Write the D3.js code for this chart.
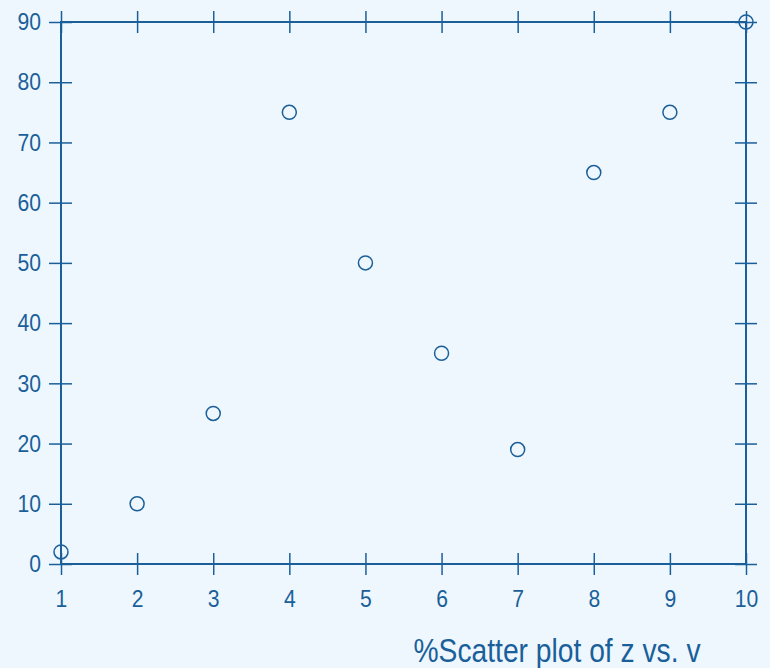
<!DOCTYPE html>
<html>
<head>
<meta charset="utf-8">
<script src="https://cdn.jsdelivr.net/npm/d3@7"></script>
<style>
  html, body { margin: 0; padding: 0; background: #edf7fd; }
  svg { display: block; }
  text { font-family: "Liberation Sans", Arial, sans-serif; fill: #1b5f9a; }
</style>
</head>
<body>
<div id="chart"></div>
<script>
var xValues = [1, 2, 3, 4, 5, 6, 7, 8, 9, 10];
var yValues = [2, 10, 25, 75, 50, 35, 19, 65, 75, 90];
var xTicks = [1, 2, 3, 4, 5, 6, 7, 8, 9, 10];
var yTicks = [0, 10, 20, 30, 40, 50, 60, 70, 80, 90];
var title = "%Scatter plot of z vs. v";

var width = 770, height = 668;
var lineColor = "#1b5f9a";

var svg = d3.select("#chart").append("svg")
    .attr("width", width)
    .attr("height", height);

var x = d3.scaleLinear().domain([1, 10]).range([61, 746]);
var y = d3.scaleLinear().domain([0, 90]).range([564, 22]);

// squeeze text to look like a narrow face
function narrow(sel, k) {
    sel.each(function () {
        var len = this.getComputedTextLength();
        d3.select(this).attr("textLength", len * k).attr("lengthAdjust", "spacingAndGlyphs");
    });
}

// axes: ticks cross the frame lines
function styleAxis(g) {
    g.select(".domain").remove();
    g.selectAll("line").attr("stroke", lineColor).attr("stroke-width", 1.5);
    g.selectAll("text")
        .attr("font-size", 24)
        .attr("fill", lineColor)
        .style("font-family", "'Liberation Sans', Arial, sans-serif");
}

// bottom
svg.append("g")
    .attr("transform", "translate(0," + y(0) + ")")
    .call(d3.axisBottom(x).tickValues(xTicks).tickSize(11).tickPadding(15))
    .call(styleAxis)
    .call(function (g) {
        g.selectAll("line").attr("y1", -11);
        g.selectAll("text").call(narrow, 0.88);
    });

// top
svg.append("g")
    .attr("transform", "translate(0," + y(90) + ")")
    .call(d3.axisTop(x).tickValues(xTicks).tickSize(11).tickFormat(""))
    .call(styleAxis)
    .call(function (g) { g.selectAll("line").attr("y1", 11); });

// left
svg.append("g")
    .attr("transform", "translate(" + x(1) + ",0)")
    .call(d3.axisLeft(y).tickValues(yTicks).tickSize(12).tickPadding(8))
    .call(styleAxis)
    .call(function (g) {
        g.selectAll("line").attr("x1", 11);
        g.selectAll("text").call(narrow, 0.88);
    });

// right
svg.append("g")
    .attr("transform", "translate(" + x(10) + ",0)")
    .call(d3.axisRight(y).tickValues(yTicks).tickSize(11).tickFormat(""))
    .call(styleAxis)
    .call(function (g) { g.selectAll("line").attr("x1", -11); });

// frame
svg.append("rect")
    .attr("x", x(1)).attr("y", y(90))
    .attr("width", x(10) - x(1)).attr("height", y(0) - y(90))
    .attr("fill", "none")
    .attr("stroke", lineColor)
    .attr("stroke-width", 2);

// points
svg.append("g").selectAll("circle")
    .data(xValues)
    .enter()
    .append("circle")
    .attr("cx", function (d) { return x(d); })
    .attr("cy", function (d, i) { return y(yValues[i]); })
    .attr("r", 7)
    .attr("fill", "none")
    .attr("stroke", lineColor)
    .attr("stroke-width", 1.5);

// title
svg.append("text")
    .attr("x", 557)
    .attr("y", 662)
    .attr("text-anchor", "middle")
    .attr("font-size", 34)
    .attr("textLength", 287)
    .attr("lengthAdjust", "spacingAndGlyphs")
    .text(title);
</script>
</body>
</html>
